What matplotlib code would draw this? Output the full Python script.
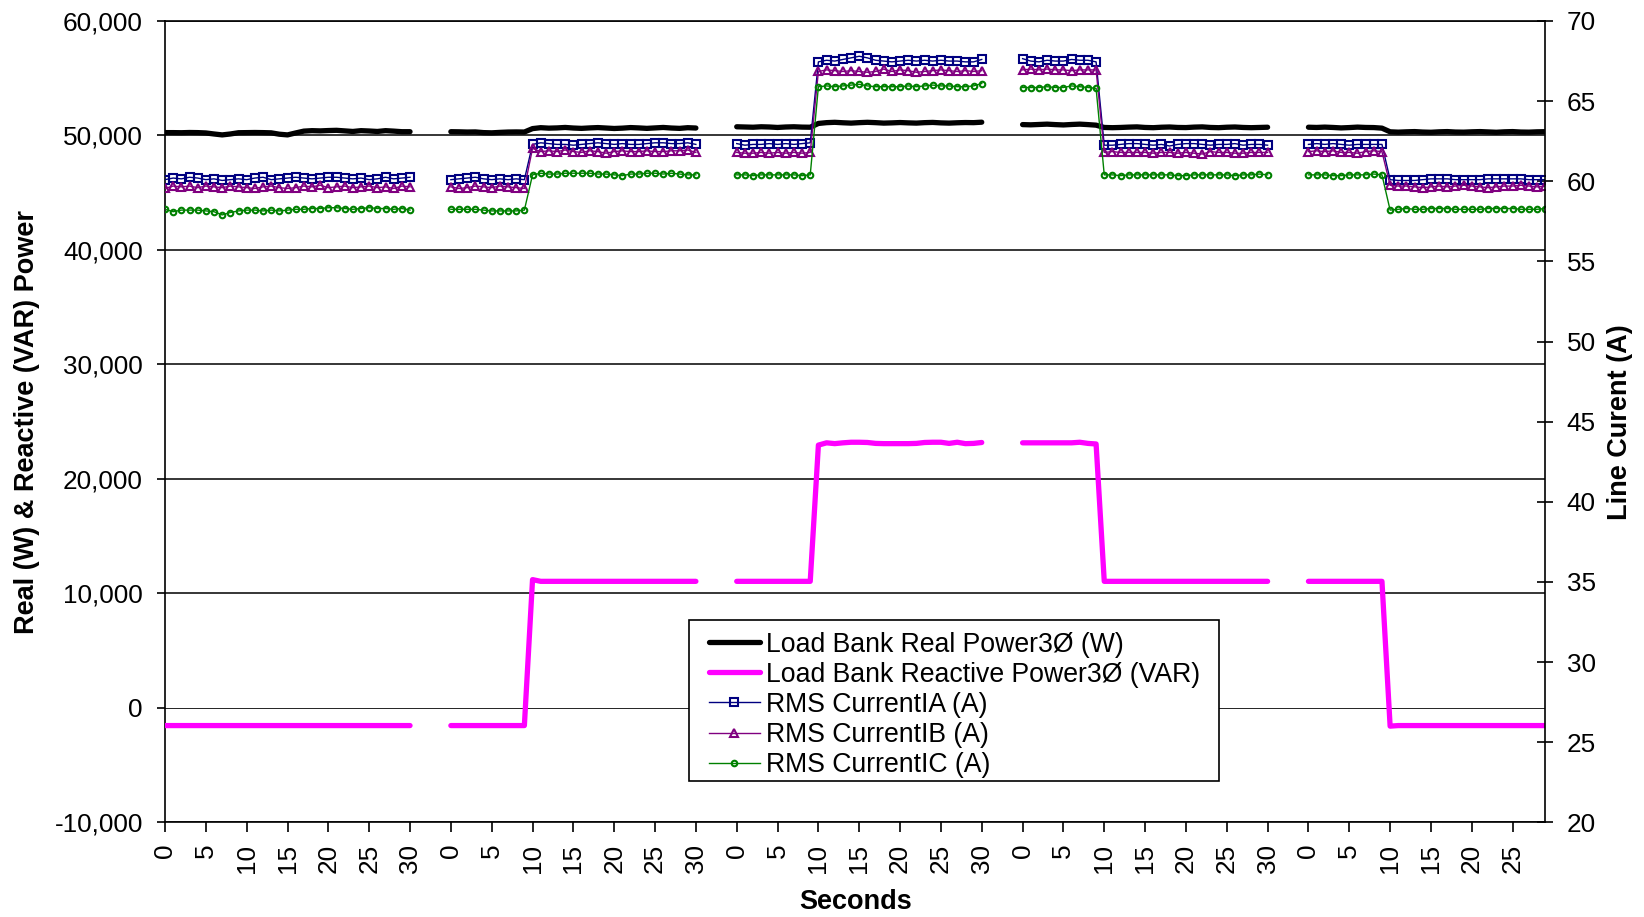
import numpy as np
import matplotlib
matplotlib.use("Agg")
import matplotlib.pyplot as plt
from matplotlib.patches import Rectangle

plt.rcParams['font.family'] = ['Liberation Sans', 'DejaVu Sans']

# ------------------------------------------------------------------ data
# Five test segments on a category axis; each segment is followed by 4 blank categories
SEG_CATS = 35          # categories per segment incl. blanks
N_CATS = 170

real_power_w = [
    [50250, 50250, 50240, 50260, 50250, 50220, 50130, 50050, 50130, 50240,
     50250, 50260, 50250, 50230, 50110, 50050, 50220, 50380, 50420, 50400,
     50430, 50450, 50400, 50350, 50420, 50390, 50350, 50420, 50380, 50330, 50330],
    [50330, 50320, 50300, 50310, 50250, 50230, 50270, 50300, 50310, 50300,
     50600, 50680, 50640, 50660, 50700, 50650, 50620, 50660, 50690, 50650,
     50610, 50640, 50690, 50660, 50620, 50660, 50700, 50650, 50620, 50680, 50650],
    [50760, 50740, 50720, 50760, 50740, 50700, 50740, 50760, 50730, 50720,
     51050, 51120, 51150, 51110, 51080, 51120, 51150, 51120, 51080, 51100,
     51130, 51100, 51080, 51120, 51140, 51100, 51080, 51110, 51130, 51120, 51160],
    [50950, 50930, 50960, 50990, 50950, 50920, 50960, 50990, 50950, 50900,
     50700, 50680, 50700, 50730, 50750, 50700, 50680, 50720, 50740, 50700,
     50690, 50730, 50750, 50700, 50680, 50720, 50740, 50700, 50680, 50700, 50720],
    [50720, 50700, 50730, 50700, 50660, 50690, 50730, 50700, 50690, 50640,
     50320, 50290, 50320, 50340, 50300, 50280, 50320, 50340, 50300, 50290,
     50320, 50340, 50310, 50280, 50320, 50340, 50300, 50290, 50320, 50330],
]

reactive_power_var = [
    [-1550, -1550, -1550, -1550, -1550, -1550, -1550, -1550, -1550, -1550,
     -1550, -1550, -1550, -1550, -1550, -1550, -1550, -1550, -1550, -1550,
     -1550, -1550, -1550, -1550, -1550, -1550, -1550, -1550, -1550, -1550, -1550],
    [-1550, -1550, -1550, -1550, -1550, -1550, -1550, -1550, -1550, -1550,
     11200, 11050, 11050, 11050, 11050, 11050, 11050, 11050, 11050, 11050,
     11050, 11050, 11050, 11050, 11050, 11050, 11050, 11050, 11050, 11050, 11050],
    [11050, 11050, 11050, 11050, 11050, 11050, 11050, 11050, 11050, 11050,
     22950, 23150, 23080, 23150, 23200, 23200, 23180, 23100, 23080, 23080,
     23080, 23080, 23100, 23180, 23200, 23200, 23100, 23200, 23080, 23100, 23180],
    [23150, 23150, 23150, 23150, 23150, 23150, 23150, 23200, 23100, 23050,
     11050, 11050, 11050, 11050, 11050, 11050, 11050, 11050, 11050, 11050,
     11050, 11050, 11050, 11050, 11050, 11050, 11050, 11050, 11050, 11050, 11050],
    [11050, 11050, 11050, 11050, 11050, 11050, 11050, 11050, 11050, 11050,
     -1600, -1550, -1550, -1550, -1550, -1550, -1550, -1550, -1550, -1550,
     -1550, -1550, -1550, -1550, -1550, -1550, -1550, -1550, -1550, -1550],
]

current_ia = [
    [60.10, 60.20, 60.15, 60.25, 60.20, 60.10, 60.15, 60.05, 60.10, 60.15,
     60.10, 60.20, 60.25, 60.10, 60.15, 60.20, 60.25, 60.20, 60.15, 60.20,
     60.25, 60.25, 60.20, 60.15, 60.20, 60.10, 60.15, 60.25, 60.15, 60.20, 60.25],
    [60.10, 60.15, 60.20, 60.25, 60.15, 60.10, 60.15, 60.10, 60.15, 60.10,
     62.30, 62.40, 62.35, 62.30, 62.30, 62.25, 62.30, 62.35, 62.40, 62.35,
     62.30, 62.35, 62.30, 62.30, 62.35, 62.40, 62.40, 62.35, 62.35, 62.40, 62.30],
    [62.35, 62.25, 62.30, 62.30, 62.35, 62.30, 62.35, 62.30, 62.35, 62.40,
     67.45, 67.55, 67.50, 67.60, 67.70, 67.80, 67.70, 67.55, 67.50, 67.45,
     67.50, 67.55, 67.50, 67.55, 67.50, 67.55, 67.50, 67.50, 67.45, 67.45, 67.60],
    [67.65, 67.50, 67.45, 67.55, 67.50, 67.50, 67.60, 67.55, 67.55, 67.45,
     62.25, 62.25, 62.30, 62.35, 62.35, 62.30, 62.25, 62.30, 62.20, 62.30,
     62.35, 62.35, 62.30, 62.25, 62.30, 62.30, 62.35, 62.25, 62.30, 62.30, 62.25],
    [62.30, 62.35, 62.30, 62.35, 62.30, 62.25, 62.30, 62.30, 62.30, 62.30,
     60.10, 60.05, 60.05, 60.05, 60.10, 60.15, 60.15, 60.15, 60.10, 60.10,
     60.10, 60.10, 60.15, 60.15, 60.15, 60.15, 60.15, 60.10, 60.10, 60.10],
]

current_ib = [
    [59.55, 59.70, 59.65, 59.70, 59.60, 59.70, 59.65, 59.60, 59.70, 59.65,
     59.60, 59.55, 59.65, 59.70, 59.60, 59.55, 59.60, 59.70, 59.65, 59.75,
     59.60, 59.65, 59.70, 59.60, 59.65, 59.70, 59.60, 59.65, 59.55, 59.70, 59.65],
    [59.65, 59.55, 59.60, 59.70, 59.65, 59.60, 59.70, 59.65, 59.60, 59.55,
     62.05, 61.85, 61.90, 61.85, 61.95, 61.85, 61.80, 61.90, 61.85, 61.75,
     61.85, 61.90, 61.85, 61.85, 61.90, 61.85, 61.85, 61.90, 61.90, 61.95, 61.80],
    [61.80, 61.75, 61.75, 61.80, 61.75, 61.80, 61.75, 61.80, 61.75, 61.80,
     66.85, 66.95, 66.90, 66.85, 66.90, 66.85, 66.80, 66.85, 67.00, 66.85,
     66.95, 66.90, 66.80, 66.85, 66.90, 66.95, 66.90, 66.85, 66.90, 66.85, 66.90],
    [66.95, 67.00, 66.95, 67.00, 66.95, 66.95, 66.90, 66.95, 66.95, 66.95,
     61.80, 61.85, 61.80, 61.80, 61.80, 61.80, 61.75, 61.80, 61.80, 61.75,
     61.80, 61.75, 61.70, 61.85, 61.80, 61.80, 61.75, 61.75, 61.80, 61.80, 61.80],
    [61.85, 61.90, 61.85, 61.90, 61.80, 61.80, 61.75, 61.85, 61.90, 61.85,
     59.75, 59.70, 59.70, 59.65, 59.60, 59.65, 59.70, 59.65, 59.70, 59.75,
     59.70, 59.65, 59.60, 59.65, 59.70, 59.70, 59.75, 59.70, 59.65, 59.70],
]

current_ic = [
    [58.25, 58.10, 58.20, 58.20, 58.20, 58.15, 58.10, 57.90, 58.05, 58.15,
     58.20, 58.20, 58.15, 58.20, 58.15, 58.20, 58.25, 58.25, 58.30, 58.30,
     58.35, 58.35, 58.30, 58.25, 58.30, 58.35, 58.30, 58.30, 58.25, 58.30, 58.20],
    [58.25, 58.25, 58.25, 58.25, 58.20, 58.15, 58.15, 58.15, 58.15, 58.20,
     60.40, 60.50, 60.45, 60.45, 60.50, 60.50, 60.50, 60.50, 60.45, 60.45,
     60.40, 60.35, 60.45, 60.45, 60.50, 60.50, 60.45, 60.50, 60.45, 60.40, 60.40],
    [60.40, 60.40, 60.35, 60.40, 60.40, 60.40, 60.40, 60.40, 60.35, 60.40,
     65.90, 65.95, 65.90, 65.95, 66.00, 66.05, 65.95, 65.90, 65.90, 65.90,
     65.90, 65.95, 65.90, 65.95, 66.00, 65.95, 65.95, 65.90, 65.90, 65.95, 66.10],
    [65.85, 65.85, 65.85, 65.90, 65.85, 65.85, 65.95, 65.90, 65.85, 65.80,
     60.40, 60.40, 60.35, 60.40, 60.40, 60.40, 60.40, 60.40, 60.40, 60.35,
     60.35, 60.40, 60.40, 60.40, 60.40, 60.40, 60.35, 60.40, 60.40, 60.45, 60.40],
    [60.40, 60.40, 60.40, 60.35, 60.35, 60.40, 60.40, 60.40, 60.45, 60.40,
     58.20, 58.25, 58.30, 58.25, 58.25, 58.30, 58.30, 58.30, 58.25, 58.25,
     58.25, 58.25, 58.30, 58.30, 58.30, 58.30, 58.25, 58.25, 58.25, 58.30],
]

series_labels = ['Load Bank Real Power3Ø (W)', 'Load Bank Reactive Power3Ø (VAR)',
                 'RMS CurrentIA (A)', 'RMS CurrentIB (A)', 'RMS CurrentIC (A)']

left_ticks = [-10000, 0, 10000, 20000, 30000, 40000, 50000, 60000]
left_tick_labels = ['-10,000', '0', '10,000', '20,000', '30,000', '40,000', '50,000', '60,000']
right_ticks = [20, 25, 30, 35, 40, 45, 50, 55, 60, 65, 70]
right_tick_labels = ['20', '25', '30', '35', '40', '45', '50', '55', '60', '65', '70']
x_tick_labels = ['0', '5', '10', '15', '20', '25', '30',
                 '0', '5', '10', '15', '20', '25', '30',
                 '0', '5', '10', '15', '20', '25', '30',
                 '0', '5', '10', '15', '20', '25', '30',
                 '0', '5', '10', '15', '20', '25']


def series_xy(segments):
    xs, ys = [], []
    for k, seg in enumerate(segments):
        start = k * SEG_CATS
        xs.extend(list(range(start, start + len(seg))) + [np.nan])
        ys.extend(list(seg) + [np.nan])
    return np.array(xs, float), np.array(ys, float)


# ------------------------------------------------------------------ figure
W, H = 1644, 917
fig = plt.figure(figsize=(W / 100, H / 100), dpi=100)
L, R, T, B = 165, 1545.3, 21, 822.3
ax = fig.add_axes([L / W, 1 - B / H, (R - L) / W, (B - T) / H])
ax2 = ax.twinx()

x, y = series_xy(real_power_w)
l1, = ax.plot(x, y, color='black', lw=3.8, solid_capstyle='round',
              solid_joinstyle='round', zorder=3)
x, y = series_xy(reactive_power_var)
l2, = ax.plot(x, y, color='#FF00FF', lw=3.8, solid_capstyle='round',
              solid_joinstyle='round', zorder=3)

x, y = series_xy(current_ia)
l3, = ax2.plot(x, y, color='#000080', lw=1.0, marker='s', ms=5.4, mfc='none',
               mec='#000080', mew=1.5)
x, y = series_xy(current_ib)
l4, = ax2.plot(x, y, color='#800080', lw=1.0, marker='^', ms=5.8, mfc='none',
               mec='#800080', mew=1.5)
x, y = series_xy(current_ic)
l5, = ax2.plot(x, y, color='#008000', lw=1.0, marker='o', ms=4.0, mfc='none',
               mec='#008000', mew=1.5)

ax.set_xlim(0, N_CATS - 1)
ax.set_ylim(left_ticks[0], left_ticks[-1])
ax2.set_ylim(right_ticks[0], right_ticks[-1])

ax.set_yticks(left_ticks, left_tick_labels)
ax2.set_yticks(right_ticks, right_tick_labels)
ax.set_xticks(np.arange(0, N_CATS, 5), x_tick_labels, rotation=90)

ax.tick_params(axis='y', direction='out', length=6, width=1.2, pad=10, labelsize=18.8)
ax.tick_params(axis='x', direction='out', length=7.5, width=1.2, pad=8, labelsize=18.8)
ax2.tick_params(axis='y', direction='inout', length=12, width=1.2, pad=9.5, labelsize=18.8)

for s in ['left', 'bottom', 'top']:
    ax.spines[s].set_linewidth(1.2)
ax.spines['right'].set_visible(False)
for s in ['left', 'bottom', 'top']:
    ax2.spines[s].set_visible(False)
ax2.spines['right'].set_linewidth(1.2)

ax.set_axisbelow(True)
ax.grid(axis='y', color='black', lw=1.1)
for tk in ax.yaxis.get_major_ticks():
    if tk.get_loc() == 0:
        tk.gridline.set_linewidth(0.6)

ax.set_ylabel('Real (W) & Reactive (VAR) Power', fontsize=19.5, fontweight='bold', va='center')
ax.yaxis.set_label_coords((27 - L) / (R - L), 0.5)
ax2.set_ylabel('Line Curent (A)', fontsize=19.5, fontweight='bold', va='center')
ax2.yaxis.set_label_coords((1620 - L) / (R - L), 0.5)
ax.set_xlabel('Seconds', fontsize=19.5, fontweight='bold', va='center')
ax.xaxis.set_label_coords(0.5, (B - 901.7) / (B - T))

# legend box
fig.add_artist(Rectangle((689 / W, 1 - 781 / H), (1219 - 689) / W, (781 - 620) / H,
                         transform=fig.transFigure, facecolor='white',
                         edgecolor='black', lw=1.2, zorder=4))
fig.legend([l1, l2, l3, l4, l5], series_labels, loc='upper left',
           bbox_to_anchor=(709 / W, 1 - 631.5 / H), bbox_transform=fig.transFigure,
           frameon=False, fontsize=19.2, handlelength=1.9, handletextpad=0.24,
           labelspacing=0.155, borderpad=0, borderaxespad=0, numpoints=1)

fig.savefig('out.png', dpi=100)
